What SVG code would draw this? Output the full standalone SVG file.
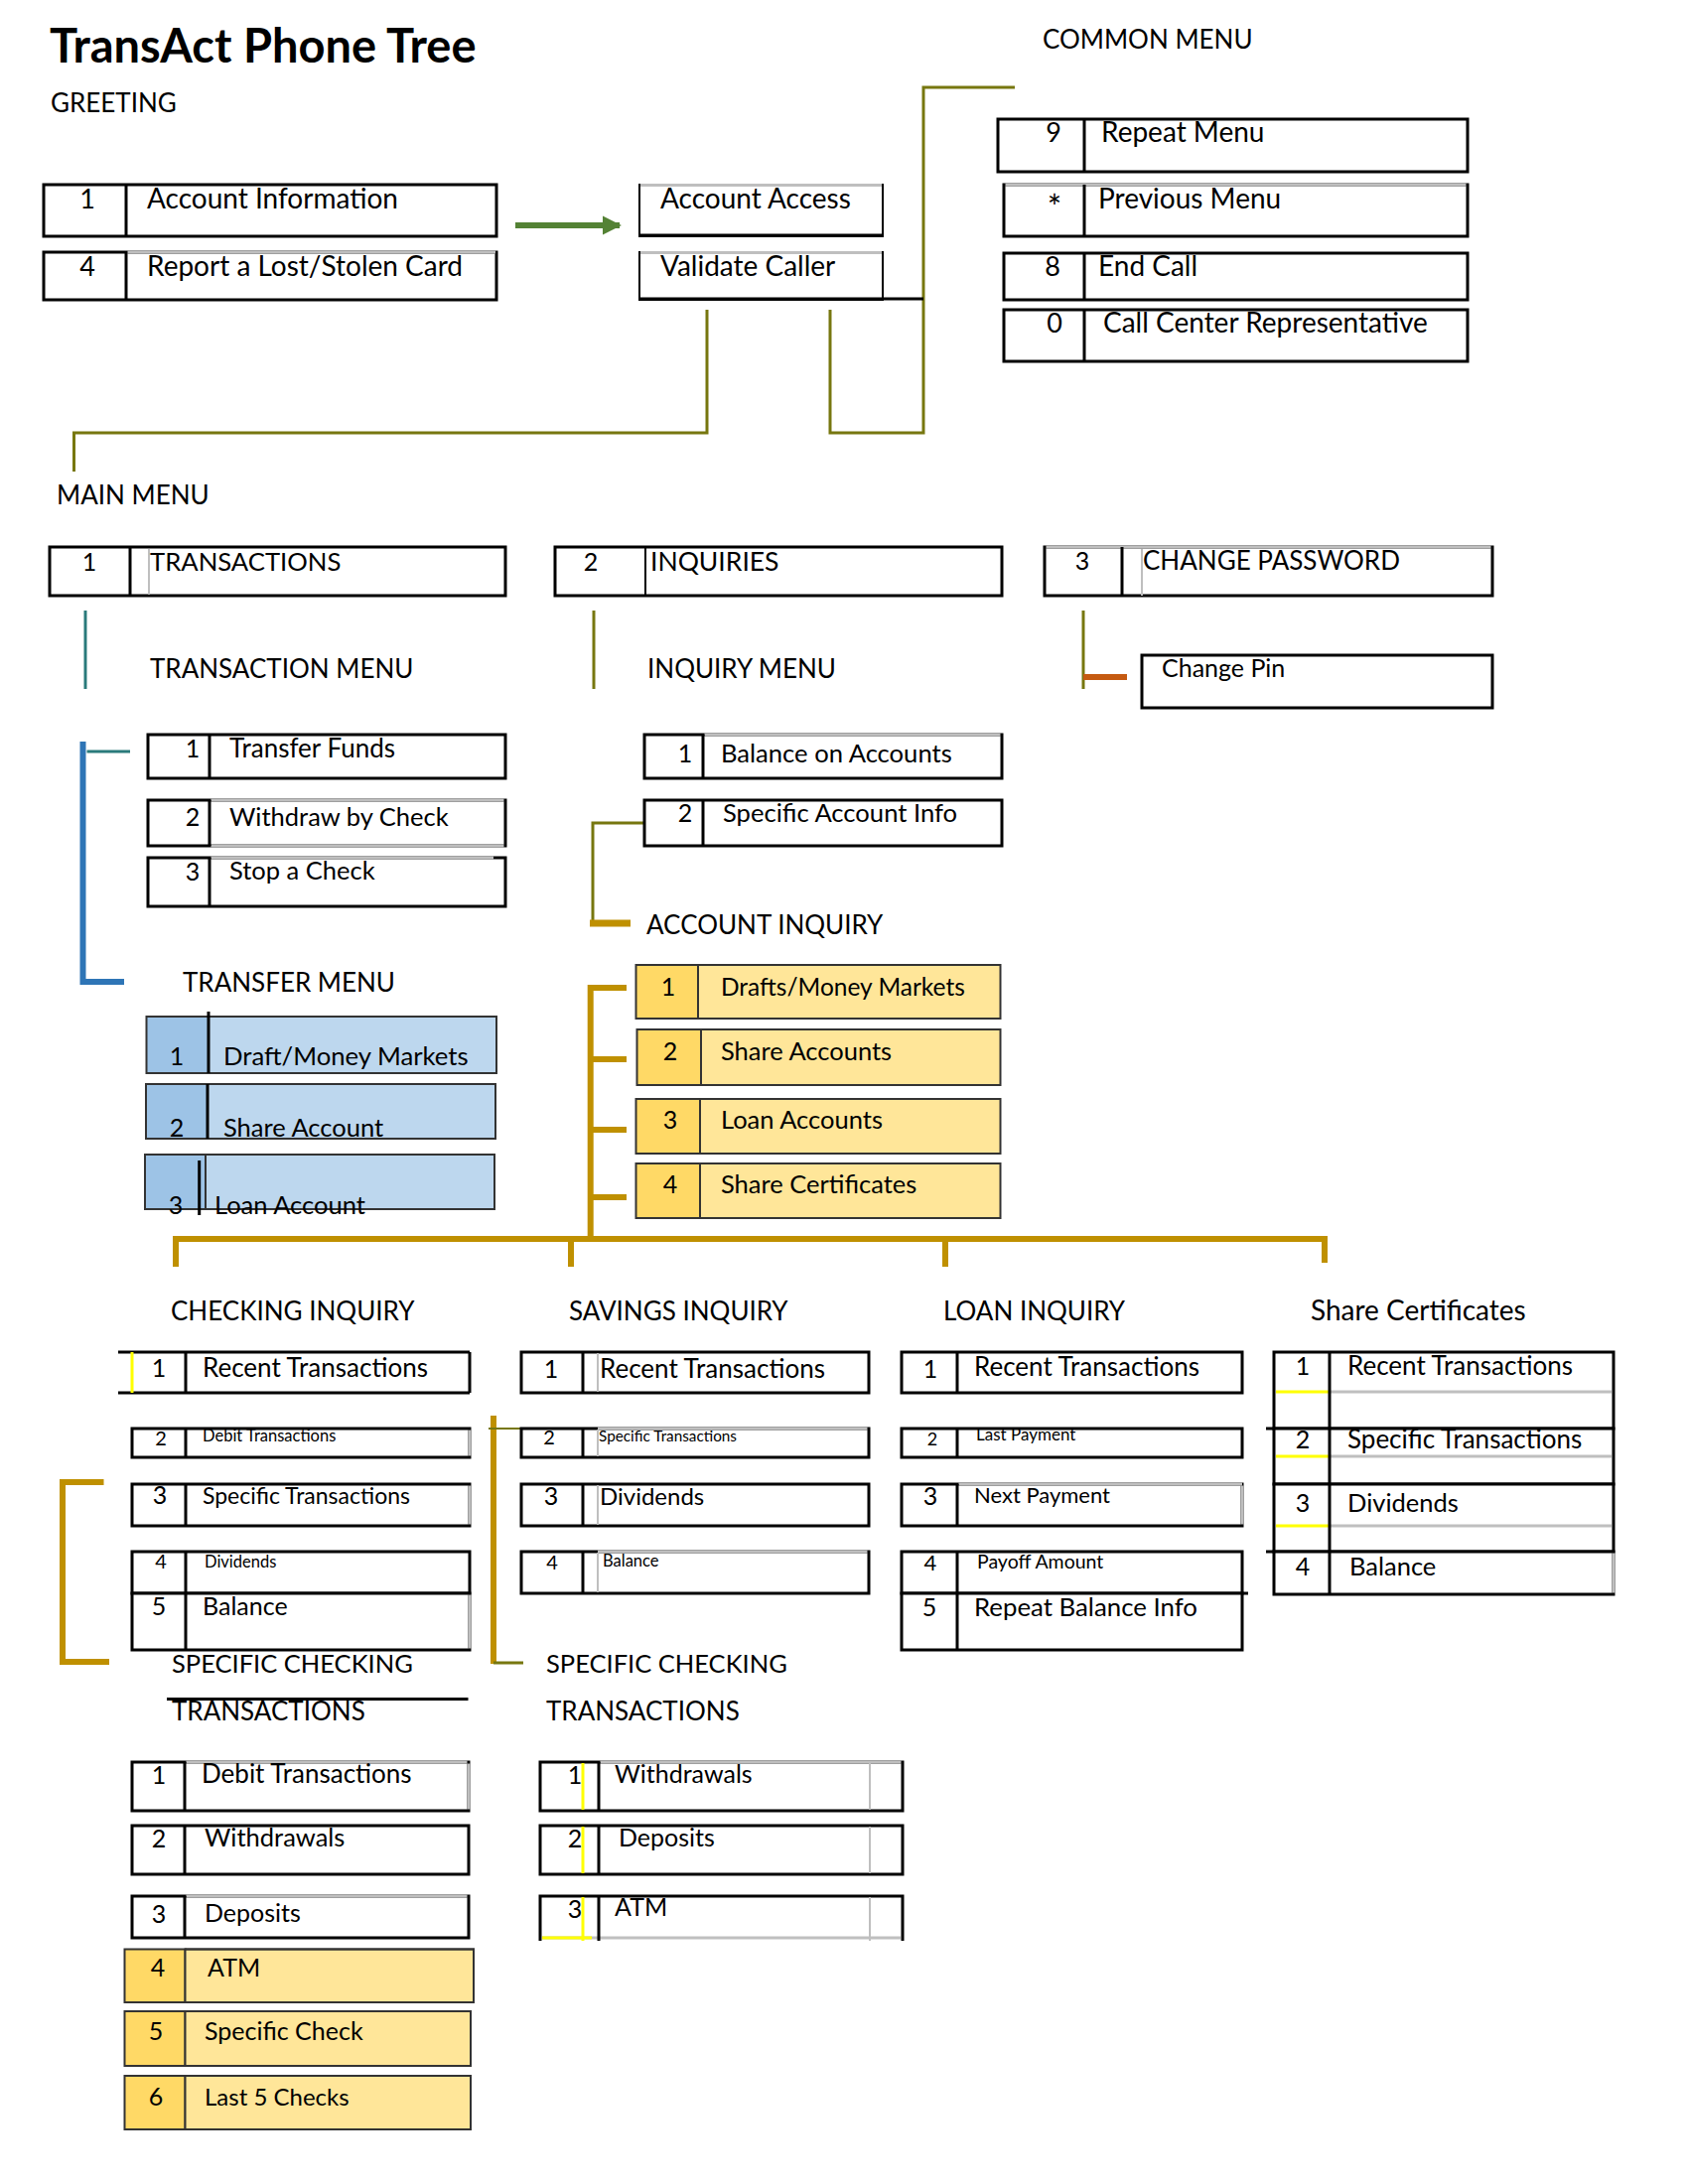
<svg xmlns="http://www.w3.org/2000/svg" width="1700" height="2200" viewBox="0 0 1700 2200">
<defs>
<style>
text{font-family:Lato,"Liberation Sans",sans-serif;fill:#000}
.t{font-size:25px}
.tl{font-size:28px}
.h{font-size:26px}
.n{font-size:25px;text-anchor:middle}
.nl{font-size:27px;text-anchor:middle}
.s{font-size:16.5px}
.ns{font-size:20px;text-anchor:middle}
.g{font-size:25.5px}
.title{font-size:47px;font-weight:bold}
.box{fill:#fff;stroke:#000;stroke-width:3}
.div{stroke:#000;stroke-width:3}
.dthin{stroke:#000;stroke-width:2}
.gray{stroke:#bfbfbf;stroke-width:3}
.yel{stroke:#ffff00;stroke-width:3}
.blueL{fill:#9dc3e6;stroke:#333;stroke-width:2}
.blueR{fill:#bdd7ee;stroke:#333;stroke-width:2}
.goldL{fill:#ffd966;stroke:#333;stroke-width:2}
.goldR{fill:#ffe699;stroke:#333;stroke-width:2}
.olive{fill:none;stroke:#77770f;stroke-width:3}
.gold{fill:none;stroke:#bf9000;stroke-width:6}
</style>
<marker id="arr" viewBox="0 0 10 10" refX="9" refY="5" markerWidth="3.2" markerHeight="3.2" orient="auto" markerUnits="strokeWidth">
<path d="M0,0 L10,5 L0,10 Z" fill="#548235"/>
</marker>
</defs>
<rect width="1700" height="2200" fill="#fff"/>

<g id="headings">
<text class="title" x="50" y="63">TransAct Phone Tree</text>
<text class="h" x="51" y="113">GREETING</text>
<text class="h" x="1050" y="49">COMMON MENU</text>
<text class="h" x="57" y="508">MAIN MENU</text>
<text class="h" x="151" y="683">TRANSACTION MENU</text>
<text class="h" x="652" y="683">INQUIRY MENU</text>
<text class="h" x="184" y="999">TRANSFER MENU</text>
<text class="h" x="651" y="941">ACCOUNT INQUIRY</text>
<text class="h" x="172" y="1330">CHECKING INQUIRY</text>
<text class="h" x="573" y="1330">SAVINGS INQUIRY</text>
<text class="h" x="950" y="1330">LOAN INQUIRY</text>
<text class="h" x="1320" y="1330" style="font-size:28px">Share Certificates</text>
<text class="h" x="173" y="1685" style="font-size:25.5px">SPECIFIC CHECKING</text>
<line x1="168" y1="1711.5" x2="471.5" y2="1711.5" stroke="#000" stroke-width="3"/>
<text class="h" x="173" y="1733">TRANSACTIONS</text>
<text class="h" x="550" y="1685" style="font-size:25.5px">SPECIFIC CHECKING</text>
<text class="h" x="550" y="1733">TRANSACTIONS</text>
</g>

<g id="connectors">
<line x1="519" y1="227" x2="624" y2="227" stroke="#548235" stroke-width="6" marker-end="url(#arr)"/>
<path class="olive" d="M712 312 V436 H74.5 V475"/>
<path class="olive" d="M836 312 V436 H930 V88 H1022"/>
<line x1="86" y1="615" x2="86" y2="694" stroke="#2a7a7b" stroke-width="3"/>
<line x1="598" y1="615" x2="598" y2="694" stroke="#77770f" stroke-width="3"/>
<line x1="1091" y1="615" x2="1091" y2="694" stroke="#77770f" stroke-width="3"/>
<line x1="1091" y1="682" x2="1135" y2="682" stroke="#c55a11" stroke-width="6"/>
<line x1="87.5" y1="757" x2="131" y2="757" stroke="#2a7a7b" stroke-width="3"/>
<path d="M83.5 747 V989 H125" fill="none" stroke="#2e75b6" stroke-width="6"/>
<path class="olive" d="M649 829 H597 V930"/>
<line x1="594" y1="930" x2="635" y2="930" stroke="#bf9000" stroke-width="7"/>
<path class="gold" d="M631 995 H594.7 V1248"/>
<path class="gold" d="M594.7 1067 H631 M594.7 1138 H631 M594.7 1206 H631"/>
<path class="gold" d="M177 1276 V1248 H1334 V1272" stroke-width="5"/>
<path class="gold" d="M575 1248 V1276 M952 1248 V1276" stroke-width="5"/>
<path class="gold" d="M104.5 1493 H63 V1674 H110"/>
<line x1="497" y1="1426" x2="497" y2="1676" stroke="#bf9000" stroke-width="6"/>
<line x1="492" y1="1439" x2="525" y2="1439" stroke="#77770f" stroke-width="2"/>
<line x1="497" y1="1675" x2="527" y2="1675" stroke="#77770f" stroke-width="3"/>
</g>

<!-- GREETING -->
<g id="g-account-info">
<rect class="box" x="44" y="186" width="456" height="52"/>
<line class="div" x1="127" y1="186" x2="127" y2="238"/>
<text class="nl" x="88" y="210">1</text>
<text class="tl" x="148" y="210">Account Information</text>
</g>
<g id="g-lost-card">
<rect class="box" x="44" y="254" width="456" height="48"/>
<line class="div" x1="127" y1="254" x2="127" y2="302"/>
<line class="gray" x1="128.5" y1="254" x2="499" y2="254"/>
<text class="nl" x="88" y="278">4</text>
<text class="tl" x="148" y="278">Report a Lost/Stolen Card</text>
</g>
<g id="g-account-access">
<rect x="644" y="186" width="245" height="52" fill="#fff" stroke="#000" stroke-width="2"/>
<line class="div" x1="643" y1="237" x2="890" y2="237"/>
<line class="gray" x1="645" y1="186.5" x2="888" y2="186.5"/>
<text class="tl" x="665" y="210">Account Access</text>
</g>
<g id="g-validate-caller">
<rect x="644" y="254" width="245" height="48" fill="#fff" stroke="#000" stroke-width="2"/>
<line class="div" x1="643" y1="301" x2="930" y2="301"/>
<line class="gray" x1="645" y1="254.5" x2="888" y2="254.5"/>
<text class="tl" x="665" y="278">Validate Caller</text>
</g>

<!-- COMMON MENU -->
<g id="c-repeat">
<rect class="box" x="1005" y="120" width="473" height="53"/>
<line class="div" x1="1092" y1="120" x2="1092" y2="173"/>
<text class="nl" x="1061" y="143">9</text>
<text class="tl" x="1109" y="143">Repeat Menu</text>
</g>
<g id="c-previous">
<rect class="box" x="1011" y="186" width="467" height="52"/>
<line class="gray" x1="1012.5" y1="186" x2="1476.5" y2="186"/>
<line class="div" x1="1092" y1="186" x2="1092" y2="238"/>
<text class="nl" x="1062" y="221" style="font-size:34px">*</text>
<text class="tl" x="1106" y="210">Previous Menu</text>
</g>
<g id="c-end">
<rect class="box" x="1011" y="255" width="467" height="47"/>
<line class="div" x1="1092" y1="255" x2="1092" y2="302"/>
<text class="nl" x="1060" y="278">8</text>
<text class="tl" x="1106" y="278">End Call</text>
</g>
<g id="c-rep">
<rect class="box" x="1011" y="312" width="467" height="52"/>
<line class="div" x1="1092" y1="312" x2="1092" y2="364"/>
<text class="nl" x="1062" y="335">0</text>
<text class="tl" x="1111" y="335">Call Center Representative</text>
</g>

<!-- MAIN MENU -->
<g id="m-transactions">
<rect class="box" x="50" y="551" width="459" height="49"/>
<line class="div" x1="131" y1="551" x2="131" y2="600"/>
<line x1="150" y1="553" x2="150" y2="599" stroke="#bfbfbf" stroke-width="2"/>
<text class="n" x="90" y="575">1</text>
<text class="t" x="151" y="575" style="font-size:25.7px">TRANSACTIONS</text>
</g>
<g id="m-inquiries">
<rect class="box" x="559" y="551" width="450" height="49"/>
<line class="dthin" x1="650" y1="551" x2="650" y2="600"/>
<text class="n" x="595" y="575">2</text>
<text class="t" x="655" y="575" style="font-size:26.5px">INQUIRIES</text>
</g>
<g id="m-change-password">
<rect class="box" x="1052" y="551" width="451" height="49"/>
<line class="gray" x1="1053.5" y1="551" x2="1501.5" y2="551"/>
<line class="div" x1="1130" y1="551" x2="1130" y2="600"/>
<line x1="1150" y1="553" x2="1150" y2="600" stroke="#bfbfbf" stroke-width="2"/>
<text class="n" x="1090" y="574">3</text>
<text class="t" x="1151" y="574" style="font-size:26px">CHANGE PASSWORD</text>
</g>
<g id="change-pin">
<rect class="box" x="1150" y="660" width="353" height="53"/>
<text class="t" x="1170" y="682">Change Pin</text>
</g>

<!-- TRANSACTION MENU -->
<g id="t-transfer-funds">
<rect class="box" x="149" y="740" width="360" height="44"/>
<line class="div" x1="211" y1="740" x2="211" y2="784"/>
<text class="n" x="194" y="763">1</text>
<text class="t" x="231" y="763" style="font-size:26px">Transfer Funds</text>
</g>
<g id="t-withdraw">
<rect class="box" x="149" y="806" width="360" height="46"/>
<line class="gray" x1="212.5" y1="806" x2="507.5" y2="806"/>
<line class="gray" x1="212.5" y1="852" x2="507.5" y2="852"/>
<line class="div" x1="211" y1="806" x2="211" y2="852"/>
<text class="n" x="194" y="832">2</text>
<text class="t" x="231" y="832" style="font-size:25.5px">Withdraw by Check</text>
</g>
<g id="t-stop">
<rect class="box" x="149" y="864" width="360" height="49"/>
<line class="gray" x1="212.5" y1="864" x2="497" y2="864"/>
<line class="div" x1="211" y1="864" x2="211" y2="913"/>
<text class="n" x="194" y="887">3</text>
<text class="t" x="231" y="886" style="font-size:25.5px">Stop a Check</text>
</g>

<!-- TRANSFER MENU -->
<g id="tm-draft">
<rect class="blueL" x="147.5" y="1024" width="62.5" height="57"/>
<rect class="blueR" x="210" y="1024" width="290" height="57"/>
<line class="div" x1="210" y1="1019" x2="210" y2="1081"/>
<text class="n" x="178" y="1073">1</text>
<text class="t" x="225" y="1073" style="font-size:25.7px">Draft/Money Markets</text>
</g>
<g id="tm-share">
<rect class="blueL" x="147" y="1092" width="62" height="55"/>
<rect class="blueR" x="209" y="1092" width="290" height="55"/>
<line class="div" x1="209" y1="1092" x2="209" y2="1147"/>
<text class="n" x="178" y="1145">2</text>
<text class="t" x="225" y="1145" style="font-size:25.5px">Share Account</text>
</g>
<g id="tm-loan">
<rect class="blueL" x="146" y="1163" width="61" height="55"/>
<rect class="blueR" x="207" y="1163" width="291" height="55"/>
<line class="div" x1="200.7" y1="1169" x2="200.7" y2="1224"/>
<text class="n" x="177" y="1223">3</text>
<text class="t" x="216" y="1223" style="font-size:25.5px">Loan Account</text>
</g>

<!-- INQUIRY MENU -->
<g id="i-balance">
<rect class="box" x="649" y="740" width="360" height="44"/>
<line class="gray" x1="709.5" y1="740" x2="1007.5" y2="740"/>
<line class="div" x1="708" y1="740" x2="708" y2="784"/>
<text class="n" x="690" y="768">1</text>
<text class="t" x="726" y="768" style="font-size:25.6px">Balance on Accounts</text>
</g>
<g id="i-specific">
<rect class="box" x="649" y="806" width="360" height="46"/>
<line class="div" x1="708" y1="806" x2="708" y2="852"/>
<text class="n" x="690" y="828">2</text>
<text class="t" x="728" y="828" style="font-size:25.6px">Specific Account Info</text>
</g>

<!-- ACCOUNT INQUIRY -->
<g id="ai-drafts">
<rect class="goldL" x="640.5" y="972" width="62.5" height="54"/>
<rect class="goldR" x="703" y="972" width="304.5" height="54"/>
<text class="n" x="673" y="1003">1</text>
<text class="g" x="726" y="1003" style="font-size:24.5px">Drafts/Money Markets</text>
</g>
<g id="ai-share">
<rect class="goldL" x="641.5" y="1037" width="64.5" height="56"/>
<rect class="goldR" x="706" y="1037" width="301.5" height="56"/>
<text class="n" x="675" y="1068">2</text>
<text class="g" x="726" y="1068">Share Accounts</text>
</g>
<g id="ai-loan">
<rect class="goldL" x="640.5" y="1107" width="64.5" height="55"/>
<rect class="goldR" x="705" y="1107" width="302.5" height="55"/>
<text class="n" x="675" y="1137">3</text>
<text class="g" x="726" y="1137">Loan Accounts</text>
</g>
<g id="ai-certs">
<rect class="goldL" x="640.5" y="1172" width="64.5" height="55"/>
<rect class="goldR" x="705" y="1172" width="302.5" height="55"/>
<text class="n" x="675" y="1202">4</text>
<text class="g" x="726" y="1202">Share Certificates</text>
</g>

<!-- CHECKING INQUIRY -->
<g id="ci-recent">
<line class="div" x1="119" y1="1362" x2="473" y2="1362"/>
<line class="div" x1="119" y1="1403" x2="473" y2="1403"/>
<line class="div" x1="473" y1="1362" x2="473" y2="1403"/>
<line class="yel" x1="133" y1="1362" x2="133" y2="1403"/>
<line class="div" x1="187" y1="1362" x2="187" y2="1403"/>
<text class="n" x="160" y="1387">1</text>
<text class="t" x="204" y="1387" style="font-size:26px">Recent Transactions</text>
</g>
<g id="ci-debit">
<rect class="box" x="133" y="1439" width="340" height="29"/>
<line class="gray" x1="473" y1="1440.5" x2="473" y2="1466.5"/>
<line class="div" x1="187" y1="1439" x2="187" y2="1468"/>
<text class="ns" x="162" y="1456">2</text>
<text class="s" x="204" y="1452">Debit Transactions</text>
</g>
<g id="ci-specific">
<rect class="box" x="133" y="1495" width="340" height="42"/>
<line class="gray" x1="473" y1="1496.5" x2="473" y2="1535.5"/>
<line class="div" x1="187" y1="1495" x2="187" y2="1537"/>
<text class="n" x="161" y="1515">3</text>
<text class="t" x="204" y="1515" style="font-size:23px">Specific Transactions</text>
</g>
<g id="ci-dividends">
<rect class="box" x="133" y="1563" width="340" height="42"/>
<line class="div" x1="187" y1="1563" x2="187" y2="1605"/>
<text class="ns" x="162" y="1580">4</text>
<text class="s" x="206" y="1579">Dividends</text>
</g>
<g id="ci-balance">
<rect class="box" x="133" y="1605" width="340" height="57"/>
<line class="gray" x1="473" y1="1606.5" x2="473" y2="1660.5"/>
<line class="div" x1="187" y1="1605" x2="187" y2="1662"/>
<text class="n" x="160" y="1627">5</text>
<text class="t" x="204" y="1627">Balance</text>
</g>

<!-- SAVINGS INQUIRY -->
<g id="si-recent">
<rect class="box" x="525" y="1362" width="350" height="41"/>
<line class="div" x1="587" y1="1362" x2="587" y2="1403"/>
<line x1="602" y1="1363" x2="602" y2="1402" stroke="#bfbfbf" stroke-width="2"/>
<text class="n" x="555" y="1388">1</text>
<text class="t" x="604" y="1388" style="font-size:26px">Recent Transactions</text>
</g>
<g id="si-specific">
<rect class="box" x="525" y="1439" width="350" height="29"/>
<line class="gray" x1="602" y1="1439" x2="873.5" y2="1439"/>
<line class="div" x1="587" y1="1439" x2="587" y2="1468"/>
<line x1="602" y1="1440" x2="602" y2="1467" stroke="#bfbfbf" stroke-width="2"/>
<text class="ns" x="553" y="1455">2</text>
<text class="s" x="603" y="1452" style="font-size:15.3px">Specific Transactions</text>
</g>
<g id="si-dividends">
<rect class="box" x="525" y="1495" width="350" height="42"/>
<line class="div" x1="587" y1="1495" x2="587" y2="1537"/>
<line x1="602" y1="1496" x2="602" y2="1536" stroke="#bfbfbf" stroke-width="2"/>
<text class="n" x="555" y="1516">3</text>
<text class="t" x="604" y="1516" style="font-size:24px">Dividends</text>
</g>
<g id="si-balance">
<rect class="box" x="525" y="1563" width="350" height="42"/>
<line class="gray" x1="602" y1="1563" x2="873.5" y2="1563"/>
<line class="div" x1="587" y1="1563" x2="587" y2="1605"/>
<line x1="602" y1="1564" x2="602" y2="1604" stroke="#bfbfbf" stroke-width="2"/>
<text class="ns" x="556" y="1581">4</text>
<text class="s" x="607" y="1578">Balance</text>
</g>

<!-- LOAN INQUIRY -->
<g id="li-recent">
<rect class="box" x="908" y="1362" width="343" height="41"/>
<line class="div" x1="964" y1="1362" x2="964" y2="1403"/>
<text class="n" x="937" y="1388">1</text>
<text class="t" x="981" y="1386" style="font-size:26px">Recent Transactions</text>
</g>
<g id="li-last">
<rect class="box" x="908" y="1439" width="343" height="29"/>
<line class="div" x1="964" y1="1439" x2="964" y2="1468"/>
<text class="ns" x="939" y="1456" style="font-size:18px">2</text>
<text class="s" x="983" y="1451" style="font-size:17px">Last Payment</text>
</g>
<g id="li-next">
<rect class="box" x="908" y="1495" width="343" height="42"/>
<line class="gray" x1="965.5" y1="1495" x2="1251" y2="1495"/>
<line class="gray" x1="1251" y1="1496.5" x2="1251" y2="1535.5"/>
<line class="div" x1="964" y1="1495" x2="964" y2="1537"/>
<text class="n" x="937" y="1516">3</text>
<text class="t" x="981" y="1514" style="font-size:22px">Next Payment</text>
</g>
<g id="li-payoff">
<rect class="box" x="908" y="1563" width="343" height="42"/>
<line class="div" x1="964" y1="1563" x2="964" y2="1605"/>
<text class="ns" x="937" y="1582" style="font-size:22px">4</text>
<text class="s" x="984" y="1580" style="font-size:19.5px">Payoff Amount</text>
</g>
<g id="li-repeat">
<rect class="box" x="908" y="1605" width="343" height="57"/>
<line class="div" x1="1251" y1="1605" x2="1257" y2="1605"/>
<line class="div" x1="964" y1="1605" x2="964" y2="1662"/>
<text class="n" x="936" y="1628">5</text>
<text class="t" x="981" y="1628" style="font-size:25.8px">Repeat Balance Info</text>
</g>

<!-- SHARE CERTIFICATES -->
<g id="sc-recent">
<rect class="box" x="1283" y="1362" width="342" height="77"/>
<line class="gray" x1="1339" y1="1402" x2="1623" y2="1402"/>
<line class="yel" x1="1285" y1="1402" x2="1338" y2="1402"/>
<line class="div" x1="1339" y1="1362" x2="1339" y2="1439"/>
<text class="n" x="1312" y="1385">1</text>
<text class="t" x="1357" y="1385" style="font-size:26px">Recent Transactions</text>
</g>
<g id="sc-specific">
<rect class="box" x="1283" y="1439" width="342" height="56"/>
<line class="div" x1="1275" y1="1439" x2="1284" y2="1439"/>
<line class="gray" x1="1339" y1="1467" x2="1623" y2="1467"/>
<line class="yel" x1="1285" y1="1467" x2="1338" y2="1467"/>
<line class="div" x1="1339" y1="1439" x2="1339" y2="1495"/>
<text class="n" x="1312" y="1459">2</text>
<text class="t" x="1357" y="1459" style="font-size:26px">Specific Transactions</text>
</g>
<g id="sc-dividends">
<rect class="box" x="1283" y="1495" width="342" height="68"/>
<line class="gray" x1="1339" y1="1537" x2="1623" y2="1537"/>
<line class="yel" x1="1285" y1="1537" x2="1338" y2="1537"/>
<line class="div" x1="1339" y1="1495" x2="1339" y2="1563"/>
<text class="n" x="1312" y="1523">3</text>
<text class="t" x="1357" y="1523" style="font-size:25.5px">Dividends</text>
</g>
<g id="sc-balance">
<rect class="box" x="1283" y="1563" width="342" height="43"/>
<line class="div" x1="1275" y1="1563" x2="1284" y2="1563"/>
<line class="gray" x1="1625" y1="1564.5" x2="1625" y2="1604.5"/>
<line class="div" x1="1339" y1="1563" x2="1339" y2="1606"/>
<text class="n" x="1312" y="1587">4</text>
<text class="t" x="1359" y="1587" style="font-size:25.5px">Balance</text>
</g>

<!-- SPECIFIC CHECKING TRANSACTIONS (left) -->
<g id="scl-debit">
<rect class="box" x="133" y="1775" width="339" height="49"/>
<line class="gray" x1="187.5" y1="1775" x2="470.5" y2="1775"/>
<line class="gray" x1="472" y1="1776.5" x2="472" y2="1822.5"/>
<line class="div" x1="186" y1="1775" x2="186" y2="1824"/>
<text class="n" x="160" y="1797">1</text>
<text class="t" x="203" y="1796" style="font-size:26px">Debit Transactions</text>
</g>
<g id="scl-withdrawals">
<rect class="box" x="133" y="1839" width="339" height="49"/>
<line class="div" x1="186" y1="1839" x2="186" y2="1888"/>
<text class="n" x="160" y="1861">2</text>
<text class="t" x="206" y="1860" style="font-size:25.5px">Withdrawals</text>
</g>
<g id="scl-deposits">
<rect class="box" x="133" y="1910" width="339" height="42"/>
<line class="gray" x1="187.5" y1="1910" x2="470.5" y2="1910"/>
<line class="div" x1="186" y1="1910" x2="186" y2="1952"/>
<text class="n" x="160" y="1937">3</text>
<text class="t" x="206" y="1936">Deposits</text>
</g>
<g id="scl-atm">
<rect class="goldL" x="125.5" y="1963.5" width="61" height="53.5"/>
<rect class="goldR" x="186.5" y="1963.5" width="290.5" height="53.5" stroke="none"/>
<path d="M186.5 1963.5 H477 V2017" fill="none" stroke="#333" stroke-width="2"/>
<text class="n" x="159" y="1991">4</text>
<text class="t" x="209" y="1991">ATM</text>
</g>
<g id="scl-specific-check">
<rect class="goldL" x="125.5" y="2026" width="61" height="55"/>
<rect class="goldR" x="186.5" y="2026" width="287.5" height="55" stroke="none"/>
<path d="M186.5 2026 H474 M186.5 2081 H474" fill="none" stroke="#333" stroke-width="2"/>
<text class="n" x="157" y="2055">5</text>
<text class="t" x="206" y="2055">Specific Check</text>
</g>
<g id="scl-last5">
<rect class="goldL" x="125.5" y="2091" width="61" height="54"/>
<rect class="goldR" x="186.5" y="2091" width="287.5" height="54" stroke="none"/>
<path d="M186.5 2091 H474" fill="none" stroke="#333" stroke-width="2"/>
<text class="n" x="157" y="2121">6</text>
<text class="t" x="206" y="2121" style="font-size:24px">Last 5 Checks</text>
</g>

<!-- SPECIFIC CHECKING TRANSACTIONS (right) -->
<g id="scr-withdrawals">
<rect class="box" x="544" y="1775" width="365" height="49"/>
<line class="gray" x1="604.5" y1="1775" x2="907.5" y2="1775"/>
<line x1="876" y1="1776" x2="876" y2="1823" stroke="#bfbfbf" stroke-width="2"/>
<line class="div" x1="603" y1="1775" x2="603" y2="1824"/>
<line class="yel" x1="587" y1="1776" x2="587" y2="1823"/>
<text class="n" x="579" y="1797">1</text>
<text class="t" x="619" y="1796">Withdrawals</text>
</g>
<g id="scr-deposits">
<rect class="box" x="544" y="1839" width="365" height="49"/>
<line x1="876" y1="1840" x2="876" y2="1887" stroke="#bfbfbf" stroke-width="2"/>
<line class="div" x1="603" y1="1839" x2="603" y2="1888"/>
<line class="yel" x1="587" y1="1840" x2="587" y2="1887"/>
<text class="n" x="579" y="1861">2</text>
<text class="t" x="623" y="1860">Deposits</text>
</g>
<g id="scr-atm">
<path d="M544 1955 V1910 H909 V1955" fill="none" stroke="#000" stroke-width="3"/>
<line class="gray" x1="546" y1="1952" x2="907" y2="1952"/>
<line class="yel" x1="546" y1="1952" x2="596" y2="1952"/>
<line x1="876" y1="1911" x2="876" y2="1955" stroke="#bfbfbf" stroke-width="2"/>
<line class="div" x1="603" y1="1910" x2="603" y2="1955"/>
<line class="yel" x1="587" y1="1911" x2="587" y2="1955"/>
<text class="n" x="579" y="1932">3</text>
<text class="t" x="619" y="1930">ATM</text>
</g>
</svg>
